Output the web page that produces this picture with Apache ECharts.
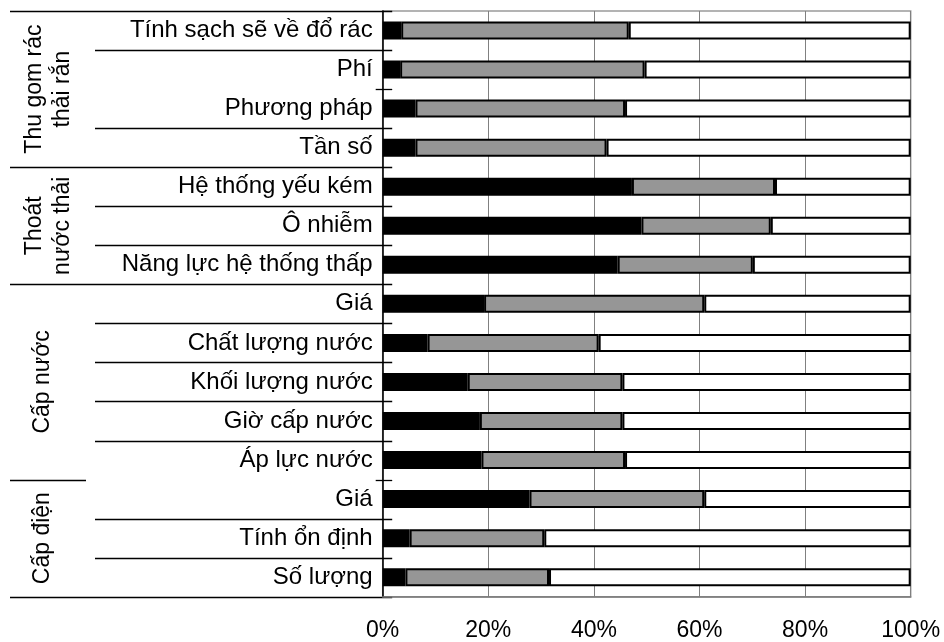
<!DOCTYPE html>
<html>
<head>
<meta charset="utf-8">
<script src="https://cdn.jsdelivr.net/npm/echarts@6/dist/echarts.min.js"></script>
<style>
  html, body { margin: 0; padding: 0; background: #fff; }
  #chart { width: 944px; height: 642px; }
</style>
</head>
<body>
<div id="chart"></div>
<script>
// Service items, top to bottom
var categories = [
  'Tính sạch sẽ về đổ rác', 'Phí', 'Phương pháp', 'Tần số',
  'Hệ thống yếu kém', 'Ô nhiễm', 'Năng lực hệ thống thấp',
  'Giá', 'Chất lượng nước', 'Khối lượng nước', 'Giờ cấp nước', 'Áp lực nước',
  'Giá', 'Tính ổn định', 'Số lượng'
];
// Share of responses (%) per item: black, grey and white segments
var blackVals = [3.5, 3.3, 6.2, 6.2, 47.2, 49.0, 44.5, 19.2, 8.5, 16.1, 18.4, 18.7, 27.8, 5.1, 4.3];
var grayVals  = [43.1, 46.3, 39.7, 36.2, 27.1, 24.5, 25.6, 41.7, 32.4, 29.3, 27.0, 27.2, 33.1, 25.5, 27.2];
var whiteVals = [53.4, 50.4, 54.1, 57.6, 25.7, 26.5, 29.9, 39.1, 59.1, 54.6, 54.6, 54.1, 39.1, 69.4, 68.5];

// Service groups and how many items each one covers
var groupNames = ['Thu gom rác\nthải rắn', 'Thoát\nnước thải', 'Cấp nước', 'Cấp điện'];
var groupSizes = [4, 3, 5, 3];

var xTicks = [0, 20, 40, 60, 80, 100];

var FONT = "'Liberation Sans', Arial, sans-serif";
var chart = echarts.init(document.getElementById('chart'), null, { renderer: 'canvas' });

function seg(name, data, color) {
  return {
    name: name,
    type: 'bar',
    stack: 'total',
    data: data,
    barWidth: 18,
    itemStyle: { color: color, borderColor: '#000', borderWidth: 2 },
    emphasis: { disabled: true }
  };
}

chart.setOption({
  animation: false,
  grid: {
    left: 382.7, right: 33.3, top: 11, bottom: 45.3,
    show: true, borderColor: '#9a9a9a', borderWidth: 1.5, backgroundColor: 'transparent'
  },
  xAxis: {
    type: 'value', min: xTicks[0], max: xTicks[xTicks.length - 1], interval: 20,
    axisLine: { show: true, lineStyle: { color: '#7a7a7a', width: 1.5 } },
    axisTick: { show: false },
    splitLine: { show: true, lineStyle: { color: '#808080', width: 1 } },
    axisLabel: {
      formatter: '{value}%', color: '#000', fontSize: 23, fontFamily: FONT, margin: 22
    }
  },
  yAxis: {
    type: 'category', data: categories, inverse: true,
    axisLine: { show: true, lineStyle: { color: '#000', width: 1.5 } },
    axisTick: { show: false },
    splitLine: { show: false },
    axisLabel: { color: '#000', fontSize: 24, fontFamily: FONT, margin: 10 }
  },
  series: [
    seg('black', blackVals, '#000000'),
    seg('grey', grayVals, '#969696'),
    seg('white', whiteVals, '#ffffff')
  ]
});

// Row separators, group separators and rotated group titles
function drawFrame() {
  var n = categories.length;
  var c0 = chart.convertToPixel({ yAxisIndex: 0 }, 0);
  var c1 = chart.convertToPixel({ yAxisIndex: 0 }, 1);
  var band = c1 - c0;
  var axisX = chart.convertToPixel({ xAxisIndex: 0 }, 0);
  function boundary(i) { return c0 - band / 2 + i * band; }

  var groupEnds = [];
  var acc = 0;
  groupSizes.forEach(function (s) { acc += s; groupEnds.push(acc); });

  var els = [];
  function line(x1, y, x2) {
    els.push({
      type: 'line', silent: true,
      shape: { x1: x1, y1: y, x2: x2, y2: y },
      style: { stroke: '#000', lineWidth: 1.3 }
    });
  }
  var tickRight = axisX + 9.5;
  for (var i = 0; i <= n; i++) {
    var y = Math.round(boundary(i)) + 0.5;
    var isGroup = i === 0 || groupEnds.indexOf(i) >= 0;
    if (i === 2) {
      line(axisX - 7, y, tickRight);
    } else if (i === 12) {
      line(10, y, 86);
      line(axisX - 7, y, tickRight);
    } else if (isGroup) {
      line(10, y, tickRight);
    } else {
      line(95, y, tickRight);
    }
  }

  var start = 0;
  var labelX = [49, 49, 43, 43];
  groupNames.forEach(function (g, k) {
    var yMid = (boundary(start) + boundary(start + groupSizes[k])) / 2;
    start += groupSizes[k];
    els.push({
      type: 'text', silent: true,
      x: labelX[k], y: yMid, rotation: Math.PI / 2,
      style: {
        text: g, fill: '#000', fontSize: 23, fontFamily: FONT,
        align: 'center', verticalAlign: 'middle', lineHeight: 28
      }
    });
  });

  chart.setOption({ graphic: { elements: els } });
}
drawFrame();
</script>
</body>
</html>
